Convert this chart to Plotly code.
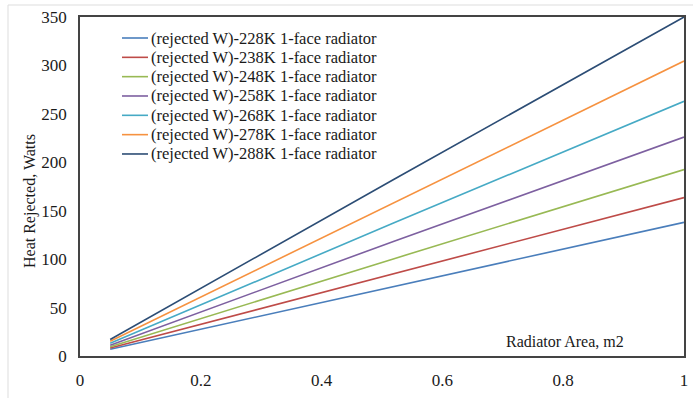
import plotly.graph_objects as go

area = [0.05, 0.52, 1.0]
series_names = [
    "(rejected W)-228K 1-face radiator",
    "(rejected W)-238K 1-face radiator",
    "(rejected W)-248K 1-face radiator",
    "(rejected W)-258K 1-face radiator",
    "(rejected W)-268K 1-face radiator",
    "(rejected W)-278K 1-face radiator",
    "(rejected W)-288K 1-face radiator",
]
q228 = [6.9, 71.7, 138]
q238 = [8.2, 85.3, 163.5]
q248 = [9.6, 100.5, 192.5]
q258 = [11.2, 118.5, 226]
q268 = [13.1, 137.5, 263]
q278 = [15.2, 158.5, 304.5]
q288 = [17.0, 182.5, 350]
series_values = [q228, q238, q248, q258, q268, q278, q288]
colors = ["#4a7ebb", "#be4b48", "#98b954", "#7d60a0", "#46aac5", "#f69240", "#2c4d75"]

x_ticks = [0, 0.2, 0.4, 0.6, 0.8, 1]
x_ticklabels = ["0", "0.2", "0.4", "0.6", "0.8", "1"]
y_ticks = [0, 50, 100, 150, 200, 250, 300, 350]

fig = go.Figure()
for name, vals, c in zip(series_names, series_values, colors):
    fig.add_trace(go.Scatter(x=area, y=vals, mode="lines", name=name,
                             line=dict(color=c, width=1.6), showlegend=False))

font = "Liberation Serif, Times New Roman, serif"
tc = "#1a1a1a"

# plot area: x 80..684 (604 px), y 17..356 (339 px)
PW, PH = 604.0, 339.0
annotations = []
shapes = []
for i, (name, c) in enumerate(zip(series_names, colors)):
    yc = 1 - (38 + i * 19.33 - 17) / PH
    shapes.append(dict(type="line", xref="paper", yref="paper",
                       x0=(122 - 80) / PW, x1=(148 - 80) / PW, y0=yc, y1=yc,
                       line=dict(color=c, width=1.6)))
    annotations.append(dict(text=name, x=(149 - 80) / PW, y=yc, xref="paper", yref="paper",
                            xanchor="left", yanchor="middle", showarrow=False,
                            font=dict(family=font, size=16.5, color=tc)))

annotations.append(dict(text="Radiator Area, m2", x=0.803, y=0.012, xref="paper", yref="paper",
                        xanchor="center", yanchor="bottom", showarrow=False,
                        font=dict(family=font, size=16, color=tc)))
annotations.append(dict(text="Heat Rejected, Watts", x=(30 - 80) / PW, y=1 - (201 - 17) / PH,
                        xref="paper", yref="paper", xanchor="center", yanchor="middle",
                        textangle=-90, showarrow=False,
                        font=dict(family=font, size=16, color=tc)))
shapes += [
    dict(type="line", xref="paper", yref="paper", x0=-72 / PW, x1=613 / PW,
         y0=1 + 12 / PH, y1=1 + 12 / PH, line=dict(color="#dddddd", width=1)),
    dict(type="line", xref="paper", yref="paper", x0=-72 / PW, x1=-72 / PW,
         y0=1 + 12 / PH, y1=-42 / PH, line=dict(color="#dddddd", width=1)),
]

fig.update_layout(
    width=693, height=398,
    margin=dict(l=80, r=9, t=17, b=42),
    paper_bgcolor="white", plot_bgcolor="white",
    font=dict(family=font, size=16, color=tc),
    showlegend=False,
    xaxis=dict(range=[0, 1], tickvals=x_ticks, ticktext=x_ticklabels, automargin=False,
               showgrid=False, zeroline=False, showline=True, linecolor="#444",
               linewidth=1.5, mirror=True, ticks="outside", ticklen=8,
               tickcolor="rgba(0,0,0,0)",
               tickfont=dict(family=font, size=17, color=tc)),
    yaxis=dict(range=[0, 350], tickvals=y_ticks, showgrid=False, zeroline=False, automargin=False,
               showline=True, linecolor="#444", linewidth=1.5, mirror=True,
               ticks="outside", ticklen=8, tickcolor="rgba(0,0,0,0)",
               tickfont=dict(family=font, size=17, color=tc)),
    annotations=annotations,
    shapes=shapes,
)
fig.write_html("out.html")
